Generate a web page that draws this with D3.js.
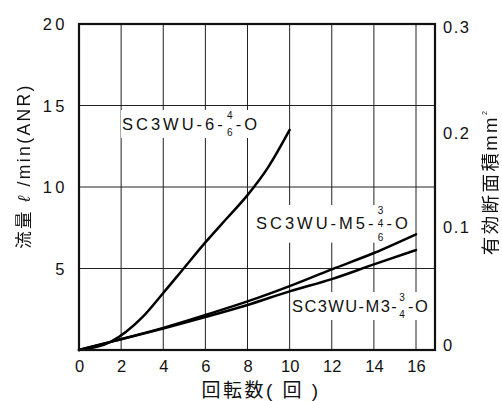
<!DOCTYPE html>
<html><head><meta charset="utf-8">
<script src="https://cdn.jsdelivr.net/npm/d3@7/dist/d3.min.js"></script>
<style>
html,body{margin:0;padding:0;background:#fff;}
text,tspan{font-family:"Liberation Sans","Noto Sans CJK JP",sans-serif;fill:#111;}
.gray{opacity:0.999;will-change:transform;}
</style></head>
<body>
<svg id="c" width="502" height="401"></svg>
<script>
// ---- data ----
const xTicks = [0, 2, 4, 6, 8, 10, 12, 14, 16];
const yTicks = [5, 10, 15, 20];
const rightTicks = [0, 0.1, 0.2, 0.3];
const rightTickLabels = ["0", "0.1", "0.2", "0.3"];

const revA = [0, 1.5, 3, 4, 5, 6, 7, 8, 9, 10];
const flowA = [0, 0.5, 2.0, 3.5, 5.05, 6.6, 8.05, 9.5, 11.25, 13.5]; // SC3WU-6-4/6-O
const revB = [0, 1.5, 4, 6, 8, 10, 12, 14, 16];
const flowM5 = [0, 0.5, 1.36, 2.15, 2.98, 3.92, 4.95, 5.95, 7.1];      // SC3WU-M5-3/4/6-O
const flowM3 = [0, 0.5, 1.32, 2.02, 2.76, 3.6, 4.35, 5.25, 6.13];      // SC3WU-M3-3/4-O

// ---- layout ----
const svg = d3.select("#c");
const L = 79, T = 24, B = 350, R = 435;
const x = d3.scaleLinear().domain([0, 16]).range([L, 416]);
const y = d3.scaleLinear().domain([0, 20]).range([B, T]);
// right axis of original is slightly irregular
const yR = d3.scaleLinear().domain(rightTicks).range([345, 227, 133, 27]);

// grid
const g = svg.append("g");
g.selectAll("line.v").data(xTicks.filter(d => d > 0)).join("line")
  .attr("x1", d => x(d)).attr("x2", d => x(d)).attr("y1", T).attr("y2", B)
  .attr("stroke", "#222").attr("stroke-width", 1);
g.selectAll("line.h").data(yTicks.filter(d => d < 20)).join("line")
  .attr("x1", L).attr("x2", R).attr("y1", d => y(d)).attr("y2", d => y(d))
  .attr("stroke", "#222").attr("stroke-width", 1);

// curves
const line = d3.line().curve(d3.curveMonotoneX);
const series = [
  revA.map((r, i) => [x(r), y(flowA[i])]),
  revB.map((r, i) => [x(r), y(flowM5[i])]),
  revB.map((r, i) => [x(r), y(flowM3[i])])
];

// series labels with stacked sizes (drawn before curves so curve ends stay visible)
function label(x0, base, pre, stack, post, ls) {
  const grp = svg.append("g");
  const bg = grp.append("rect").attr("fill", "#fff");
  const t1 = grp.append("text").attr("x", x0).attr("y", base).attr("font-size", 16.5)
    .attr("letter-spacing", ls).text(pre);
  let cx = x0 + t1.node().getComputedTextLength() + 4;
  const n = stack.length;
  stack.forEach((s, i) => {
    grp.append("text").attr("x", cx)
      .attr("y", n === 3 ? base - 15 + i * 13.3 : (i === 0 ? base - 11 : base + 6))
      .attr("font-size", 10).attr("text-anchor", "middle").text(s);
  });
  grp.append("text").attr("x", cx + 6).attr("y", base).attr("font-size", 16.5)
    .attr("letter-spacing", ls).text(post);
  const bb = grp.node().getBBox();
  bg.attr("x", bb.x - 1).attr("y", bb.y).attr("width", bb.width - ls + 2).attr("height", bb.height);
}
label(122, 130, "SC3WU-6-", ["4", "6"], "-O", 3);
label(256, 229, "SC3WU-M5-", ["3", "4", "6"], "-O", 3.0);
label(292, 312, "SC3WU-M3-", ["3", "4"], "-O", 1.4);

svg.selectAll("path.s").data(series).join("path").attr("class", "s")
  .attr("d", d => line(d)).attr("fill", "none")
  .attr("stroke", "#000").attr("stroke-width", 2.5).attr("stroke-linecap", "round");

// frame
svg.append("rect").attr("x", L).attr("y", T).attr("width", R - L).attr("height", B - T)
  .attr("fill", "none").attr("stroke", "#111").attr("stroke-width", 2.2);

// axis tick labels
const bottomAxis = d3.axisBottom(x).tickValues(xTicks).tickSize(0).tickPadding(0);
const ax = svg.append("g").attr("transform", `translate(0,${B})`).call(bottomAxis);
ax.select(".domain").remove();
ax.selectAll("text").attr("y", 22).attr("dy", 0).attr("font-size", 16.5)
  .attr("font-family", "Liberation Sans").attr("fill", "#111");

const leftAxis = d3.axisLeft(y).tickValues(yTicks).tickSize(0).tickPadding(0);
const ay = svg.append("g").attr("transform", `translate(${L - 11},0)`).call(leftAxis);
ay.select(".domain").remove();
ay.selectAll("text").attr("dy", "0.36em").attr("font-size", 16.5)
  .attr("letter-spacing", 3.5).attr("font-family", "Liberation Sans").attr("fill", "#111");

const rightAxis = d3.axisRight(yR).tickValues(rightTicks).tickSize(0).tickPadding(0)
  .tickFormat((d, i) => rightTickLabels[i]);
const ar = svg.append("g").attr("transform", `translate(${R + 8},0)`).call(rightAxis);
ar.select(".domain").remove();
ar.selectAll("text").attr("dy", "0.36em").attr("font-size", 16.5)
  .attr("letter-spacing", 1.5).attr("font-family", "Liberation Sans").attr("fill", "#111");

// axis titles
svg.append("text").attr("x", 261).attr("y", 397).attr("text-anchor", "middle")
  .attr("font-size", 19).attr("letter-spacing", 2.5).text("回転数( 回 )");

const lt = svg.append("text").attr("class", "gray").attr("transform", "translate(30,166) rotate(-90)")
  .attr("text-anchor", "middle").attr("font-size", 17.5).attr("letter-spacing", 2.4);
lt.append("tspan").attr("fill", "#111").text("流量");
lt.append("tspan").attr("font-style", "italic").attr("font-family", "DejaVu Serif").text(" ℓ ");
lt.append("tspan").text("/min(ANR)");

const rt = svg.append("text").attr("class", "gray").attr("transform", "translate(497,182) rotate(-90)")
  .attr("text-anchor", "middle").attr("font-size", 18.5).attr("letter-spacing", 2.4);
rt.append("tspan").text("有効断面積mm");
rt.append("tspan").attr("font-size", 7).attr("dy", -10).text("2");
</script>
</body></html>
